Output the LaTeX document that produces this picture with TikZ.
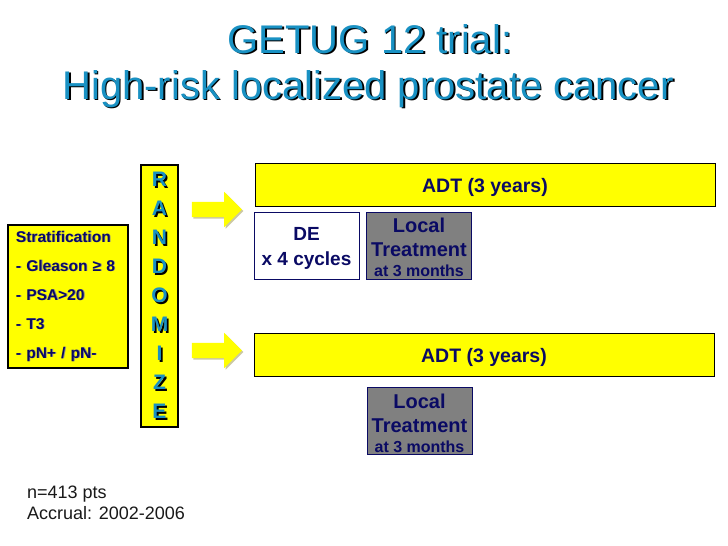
\documentclass[tikz,border=0pt]{standalone}
\usepackage{fontspec}
\setmainfont{Liberation Sans}
\usetikzlibrary{positioning,shapes.arrows,shadows}
\definecolor{titleblue}{RGB}{25,145,195}
\definecolor{navy}{RGB}{10,10,100}
\definecolor{slideyellow}{RGB}{255,255,0}
\definecolor{boxgray}{RGB}{128,128,128}
\newcommand\shadowtext[1]{\leavevmode\rlap{\hspace{1.8pt}\raisebox{-1.8pt}{\color{black}#1}}#1}
\newcommand\softshadow[1]{\leavevmode\rlap{\hspace{0.9pt}\raisebox{-0.9pt}{\color{black!45}#1}}#1}
\tikzset{
  titletext/.style={font=\fontsize{40}{40}\selectfont, text=titleblue, anchor=base, inner sep=0pt},
  stratbox/.style={draw=black, fill=slideyellow, line width=1.2pt, minimum width=120pt, minimum height=143pt, text width=104pt, inner xsep=8pt, align=left, text=navy, font=\bfseries\fontsize{15.5}{29}\selectfont},
  randbox/.style={draw=black, fill=slideyellow, line width=1.2pt, minimum width=37pt, minimum height=262pt},
  randletter/.style={text=titleblue, font=\bfseries\fontsize{21}{21}\selectfont, inner sep=0pt},
  bigarrow/.style={single arrow, fill=slideyellow, draw=none, minimum height=50pt, minimum width=35pt, inner sep=7.5pt, single arrow head extend=10pt, drop shadow={shadow xshift=1.5pt, shadow yshift=-1.5pt, fill=yellow!55!black, opacity=0.5}},
  adtbox/.style={draw=black, fill=slideyellow, line width=1pt, minimum width=460pt, minimum height=43pt, text height=19.5pt, text depth=4pt, text=navy, font=\bfseries\fontsize{19.5}{20}\selectfont},
  debox/.style={draw=navy, fill=white, line width=1pt, minimum width=105pt, minimum height=67pt},
  localbox/.style={draw=navy, fill=boxgray, line width=1pt, minimum width=105pt, minimum height=67pt},
  boxtext/.style={inner sep=0pt, align=center, text=navy, font=\bfseries\fontsize{20}{24}\selectfont},
  notes/.style={align=left, text=black!90, inner sep=0pt, font=\fontsize{18}{21}\selectfont}
}
\begin{document}
\begin{tikzpicture}[x=1pt, y=-1pt]
  \useasboundingbox[fill=white] (0,0) rectangle (728,546);
  \node[titletext] (title1) at (370,53) {\shadowtext{GETUG 12 trial:}};
  \node[titletext] (title2) at (368,99) {\shadowtext{High-risk localized prostate cancer}};
  \node[stratbox] (strat) at (68,296.5) {\softshadow{Stratification}\\\softshadow{- Gleason ≥ 8}\\\softshadow{- PSA>20}\\\softshadow{- T3}\\\softshadow{- pN+ / pN-}};
  \node[randbox] (rand) at (159.5,296) {};
  \foreach \ch [count=\i] in {R,A,N,D,O,M,I,Z,E}
    \node[randletter] (letter\i) at (159.5,180+29*\i-29) {\shadowtext{\ch}};
  \node[bigarrow] (arrowtop) at (213,209.5) {};
  \node[bigarrow] (arrowbot) at (213,350.5) {};
  \node[adtbox] (adttop) at (485,184.5) {ADT (3 years)};
  \node[adtbox] (adtbot) at (484,354.5) {ADT (3 years)};
  \node[debox] (de) at (306.5,245.5) {};
  \node[boxtext, font=\bfseries\fontsize{19}{25}\selectfont] (detext) at ([yshift=-3pt]de.center) {DE\\x 4 cycles};
  \node[localbox] (localtop) at (419,245.5) {};
  \node[boxtext] (localtoptext) at ([yshift=-2pt]localtop.center) {Local\\Treatment\\[-4pt]{\fontsize{16}{21}\selectfont at 3 months}};
  \node[localbox] (localbot) at (419.5,421) {};
  \node[boxtext] (localbottext) at ([yshift=-2pt]localbot.center) {Local\\Treatment\\[-4pt]{\fontsize{16}{21}\selectfont at 3 months}};
  \node[notes, anchor=west] (trialinfo) at (27,502.5) {n=413 pts\\Accrual: 2002-2006};
\end{tikzpicture}
\end{document}
